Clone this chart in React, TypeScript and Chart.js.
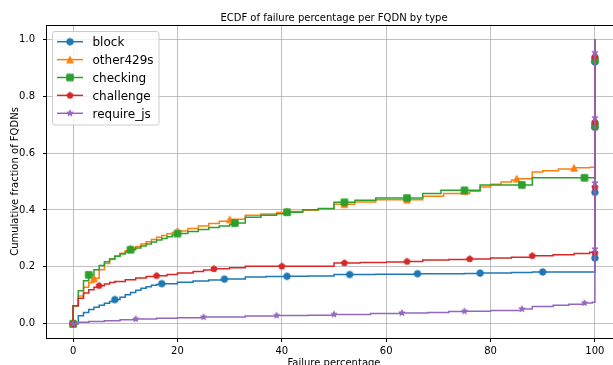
import React, { useEffect, useRef } from "react";
import { Chart, registerables } from "chart.js";

Chart.register(...registerables);

const TITLE = "ECDF of failure percentage per FQDN by type";
const X_LABEL = "Failure percentage";
const Y_LABEL = "Cumulative fraction of FQDNs";
const X_TICKS = [0, 20, 40, 60, 80, 100];
const Y_TICKS = [0, 0.2, 0.4, 0.6, 0.8, 1.0];
const SERIES_NAMES = ["block", "other429s", "checking", "challenge", "require_js"];
const COLORS = ["#1f77b4", "#ff7f0e", "#2ca02c", "#d62728", "#9467bd"];
const MARKERS = ["circle", "triangle", "square", "pentagon", "star"];

// block
const blockX = [0, 1, 2, 3, 4, 5, 6, 7, 8, 9, 10, 11, 12, 13, 14, 15, 16, 17, 20, 23, 26, 29, 33, 37, 41, 45, 50, 58, 66, 75, 78, 84, 88, 100];
const blockY = [0, 0.028, 0.04, 0.05, 0.058, 0.065, 0.072, 0.078, 0.085, 0.093, 0.102, 0.11, 0.118, 0.125, 0.13, 0.135, 0.138, 0.141, 0.146, 0.15, 0.154, 0.157, 0.164, 0.166, 0.167, 0.168, 0.173, 0.174, 0.176, 0.177, 0.178, 0.18, 0.182, 1.0];
const blockMarkX = [0, 8, 17, 29, 41, 53, 66, 78, 90, 100, 100, 100, 100];
const blockMarkY = [0, 0.085, 0.141, 0.157, 0.167, 0.173, 0.176, 0.178, 0.182, 0.231, 0.462, 0.69, 0.92];

// other429s
const otherX = [0, 0, 1, 2, 3, 4, 5, 6, 7, 8, 9, 10, 11, 12, 13, 14, 15, 16, 17, 18, 19, 20, 22, 24, 26, 28, 30, 33, 36, 39, 41, 44, 47, 50, 54, 58, 67, 71, 76, 78, 80, 82, 84, 85, 88, 90, 93, 96, 99, 100];
const otherY = [0, 0.063, 0.098, 0.128, 0.145, 0.16, 0.19, 0.212, 0.228, 0.238, 0.248, 0.257, 0.265, 0.272, 0.28, 0.288, 0.296, 0.304, 0.31, 0.316, 0.321, 0.326, 0.335, 0.344, 0.352, 0.36, 0.367, 0.381, 0.386, 0.391, 0.395, 0.399, 0.404, 0.42, 0.428, 0.436, 0.448, 0.458, 0.466, 0.481, 0.49, 0.498, 0.505, 0.51, 0.533, 0.538, 0.544, 0.548, 0.55, 1.0];
const otherMarkX = [0, 4, 11, 20, 30, 41, 52, 64, 75, 85, 96, 100, 100];
const otherMarkY = [0, 0.16, 0.265, 0.326, 0.367, 0.395, 0.42, 0.436, 0.466, 0.51, 0.548, 0.7, 0.93];

// checking
const checkingX = [0, 0, 1, 2, 3, 4, 5, 6, 7, 8, 9, 10, 11, 12, 13, 14, 15, 16, 17, 18, 19, 20, 22, 24, 26, 28, 30, 31, 33, 36, 39, 41, 44, 47, 50, 54, 58, 67, 70.5, 78, 88, 100];
const checkingY = [0, 0.063, 0.116, 0.151, 0.172, 0.19, 0.205, 0.218, 0.228, 0.237, 0.245, 0.252, 0.26, 0.266, 0.273, 0.28, 0.287, 0.294, 0.3, 0.306, 0.312, 0.317, 0.324, 0.331, 0.338, 0.344, 0.35, 0.354, 0.374, 0.381, 0.387, 0.392, 0.401, 0.405, 0.427, 0.434, 0.442, 0.458, 0.469, 0.488, 0.513, 1.0];
const checkingMarkX = [0, 3, 11, 20, 31, 41, 52, 64, 75, 86, 98, 100, 100];
const checkingMarkY = [0, 0.172, 0.26, 0.317, 0.354, 0.392, 0.427, 0.442, 0.469, 0.488, 0.513, 0.697, 0.927];

// challenge
const challengeX = [0, 0, 1, 2, 3, 4, 5, 6, 7, 8, 10, 12, 14, 16, 18, 20, 23, 25, 27, 30, 33, 50, 55, 60, 64, 67, 72, 76, 80, 84, 88, 92, 96, 99, 100];
const challengeY = [0, 0.063, 0.09, 0.108, 0.12, 0.128, 0.134, 0.14, 0.145, 0.149, 0.155, 0.161, 0.166, 0.169, 0.173, 0.178, 0.184, 0.189, 0.193, 0.197, 0.202, 0.214, 0.215, 0.217, 0.219, 0.224, 0.226, 0.228, 0.231, 0.234, 0.239, 0.243, 0.247, 0.251, 1.0];
const challengeMarkX = [0, 5, 16, 27, 40, 52, 64, 76, 88, 100, 100, 100, 100];
const challengeMarkY = [0, 0.134, 0.169, 0.193, 0.202, 0.214, 0.219, 0.228, 0.239, 0.249, 0.48, 0.709, 0.939];

// require_js
const requireX = [0, 1, 3, 6, 9, 12, 16, 20, 25, 33, 39, 45, 50, 57, 63, 68, 72, 75, 80, 86, 88, 92, 95, 98, 99.5, 100];
const requireY = [0, 0.005, 0.008, 0.011, 0.014, 0.0165, 0.019, 0.021, 0.0235, 0.027, 0.029, 0.03, 0.033, 0.036, 0.038, 0.04, 0.043, 0.044, 0.047, 0.052, 0.061, 0.065, 0.069, 0.073, 0.076, 1.0];
const requireMarkX = [0, 12, 25, 39, 50, 63, 75, 86, 98, 100, 100, 100, 100];
const requireMarkY = [0, 0.0165, 0.0235, 0.029, 0.033, 0.038, 0.044, 0.052, 0.073, 0.263, 0.495, 0.724, 0.953];

const SERIES_X = [blockX, otherX, checkingX, challengeX, requireX];
const SERIES_Y = [blockY, otherY, checkingY, challengeY, requireY];
const MARK_X = [blockMarkX, otherMarkX, checkingMarkX, challengeMarkX, requireMarkX];
const MARK_Y = [blockMarkY, otherMarkY, checkingMarkY, challengeMarkY, requireMarkY];

const FONT = '"DejaVu Sans", "Liberation Sans", sans-serif';

function makeMarker(shape: string, color: string, size = 6.5): HTMLCanvasElement {
  const c = document.createElement("canvas");
  c.width = 14;
  c.height = 14;
  const g = c.getContext("2d")!;
  g.translate(7, 7);
  const h = size / 2;
  g.beginPath();
  if (shape === "circle") {
    g.arc(0, 0, h, 0, Math.PI * 2);
  } else if (shape === "triangle") {
    g.moveTo(0, -h);
    g.lineTo(-h, h);
    g.lineTo(h, h);
    g.closePath();
  } else if (shape === "square") {
    g.rect(-h, -h, size, size);
  } else if (shape === "pentagon") {
    for (let k = 0; k < 5; k++) {
      const a = -Math.PI / 2 + (k * 2 * Math.PI) / 5;
      const px = Math.cos(a) * h;
      const py = Math.sin(a) * h;
      if (k === 0) g.moveTo(px, py);
      else g.lineTo(px, py);
    }
    g.closePath();
  } else if (shape === "star") {
    for (let k = 0; k < 10; k++) {
      const r = k % 2 ? h * 0.381966 : h;
      const a = -Math.PI / 2 + (k * Math.PI) / 5;
      const px = Math.cos(a) * r;
      const py = Math.sin(a) * r;
      if (k === 0) g.moveTo(px, py);
      else g.lineTo(px, py);
    }
    g.closePath();
  }
  g.fillStyle = color;
  g.fill();
  g.strokeStyle = color;
  g.lineWidth = 1;
  g.lineJoin = "miter";
  g.stroke();
  return c;
}

export default function App() {
  const ref = useRef<HTMLCanvasElement>(null);

  useEffect(() => {
    const canvas = ref.current;
    if (!canvas) return;
    const markerImgs = MARKERS.map((m, i) => makeMarker(m, COLORS[i]));

    const datasets: any[] = [];
    SERIES_NAMES.forEach((name, i) => {
      datasets.push({
        label: name,
        data: SERIES_X[i].map((x, j) => ({ x, y: SERIES_Y[i][j] })),
        borderColor: COLORS[i],
        backgroundColor: COLORS[i],
        borderWidth: 1.5,
        stepped: "before",
        pointRadius: 0,
        pointHoverRadius: 0,
        fill: false,
        order: (4 - i) * 2 + 1,
      });
      datasets.push({
        label: name + "_markers",
        data: MARK_X[i].map((x, j) => ({ x, y: MARK_Y[i][j] })),
        showLine: false,
        pointStyle: markerImgs[i],
        pointRadius: 3,
        pointHoverRadius: 3,
        borderWidth: 0,
        backgroundColor: COLORS[i],
        borderColor: COLORS[i],
        order: (4 - i) * 2,
      });
    });

    const decor = {
      id: "decor",
      afterDatasetsDraw(chart: any) {
        const ctx = chart.ctx as CanvasRenderingContext2D;
        const a = chart.chartArea;
        ctx.save();
        // spines
        ctx.strokeStyle = "#000";
        ctx.lineWidth = 1;
        ctx.strokeRect(Math.round(a.left) - 0.5, Math.round(a.top) + 0.5, Math.round(a.right - a.left) + 1, Math.round(a.bottom - a.top));
        // title and axis labels
        ctx.fillStyle = "#000";
        ctx.font = "10px " + FONT;
        ctx.textAlign = "center";
        ctx.textBaseline = "alphabetic";
        const cx = (a.left + a.right) / 2;
        ctx.fillText(TITLE, cx, 20.5);
        ctx.fillText(X_LABEL, cx, 365.5);
        ctx.save();
        ctx.translate(18, (a.top + a.bottom) / 2);
        ctx.rotate(-Math.PI / 2);
        ctx.fillText(Y_LABEL, 0, 0);
        ctx.restore();
        // legend
        const lx = 52.5, ly = 31.5, lw = 106.5, lh = 93.5, r = 2.5;
        ctx.beginPath();
        ctx.moveTo(lx + r, ly);
        ctx.lineTo(lx + lw - r, ly);
        ctx.arcTo(lx + lw, ly, lx + lw, ly + r, r);
        ctx.lineTo(lx + lw, ly + lh - r);
        ctx.arcTo(lx + lw, ly + lh, lx + lw - r, ly + lh, r);
        ctx.lineTo(lx + r, ly + lh);
        ctx.arcTo(lx, ly + lh, lx, ly + lh - r, r);
        ctx.lineTo(lx, ly + r);
        ctx.arcTo(lx, ly, lx + r, ly, r);
        ctx.closePath();
        ctx.fillStyle = "rgba(255,255,255,0.8)";
        ctx.fill();
        ctx.strokeStyle = "#cccccc";
        ctx.lineWidth = 1;
        ctx.stroke();
        ctx.font = "12px " + FONT;
        ctx.textAlign = "left";
        ctx.textBaseline = "alphabetic";
        SERIES_NAMES.forEach((name, i) => {
          const y = 41.7 + i * 17.9;
          ctx.strokeStyle = COLORS[i];
          ctx.lineWidth = 1.5;
          ctx.beginPath();
          ctx.moveTo(57, y);
          ctx.lineTo(83, y);
          ctx.stroke();
          const img = markerImgs[i];
          ctx.drawImage(img, 70 - img.width / 2, y - img.height / 2);
          ctx.fillStyle = "#000";
          ctx.fillText(name, 92.5, y + 4.5);
        });
        ctx.restore();
      },
    };

    const tickFont = { family: FONT, size: 10 };
    const chart = new Chart(canvas, {
      type: "line",
      data: { datasets },
      options: {
        animation: false,
        responsive: false,
        maintainAspectRatio: false,
        devicePixelRatio: 1,
        events: [],
        layout: { padding: { left: 0, top: 25, right: 19, bottom: 0 } },
        plugins: {
          legend: { display: false },
          title: { display: false },
          tooltip: { enabled: false },
        },
        scales: {
          x: {
            type: "linear",
            min: -5,
            max: 105,
            afterBuildTicks: (s: any) => {
              s.ticks = X_TICKS.map((v) => ({ value: v }));
            },
            afterFit: (s: any) => {
              s.height = 42;
            },
            grid: { color: "#b0b0b0", lineWidth: 0.8, tickColor: "#000", tickLength: 4, tickWidth: 1 },
            border: { display: false },
            ticks: {
              color: "#000",
              font: tickFont,
              padding: 3,
              maxRotation: 0,
              autoSkip: false,
              callback: (v: any) => String(v),
            },
          },
          y: {
            type: "linear",
            min: -0.05,
            max: 1.05,
            afterBuildTicks: (s: any) => {
              s.ticks = Y_TICKS.map((v) => ({ value: v }));
            },
            afterFit: (s: any) => {
              s.width = 47;
            },
            grid: { color: "#b0b0b0", lineWidth: 0.8, tickColor: "#000", tickLength: 4, tickWidth: 1 },
            border: { display: false },
            ticks: {
              color: "#000",
              font: tickFont,
              padding: 8,
              autoSkip: false,
              callback: (v: any) => Number(v).toFixed(1),
            },
          },
        },
      },
      plugins: [decor],
    } as any);
    return () => chart.destroy();
  }, []);

  return (
    <div
      style={{
        position: "absolute",
        left: 0,
        top: 0,
        width: 613,
        height: 365,
        overflow: "hidden",
        background: "#fff",
      }}
    >
      <canvas ref={ref} width={640} height={380} style={{ display: "block", width: 640, height: 380 }} />
    </div>
  );
}
